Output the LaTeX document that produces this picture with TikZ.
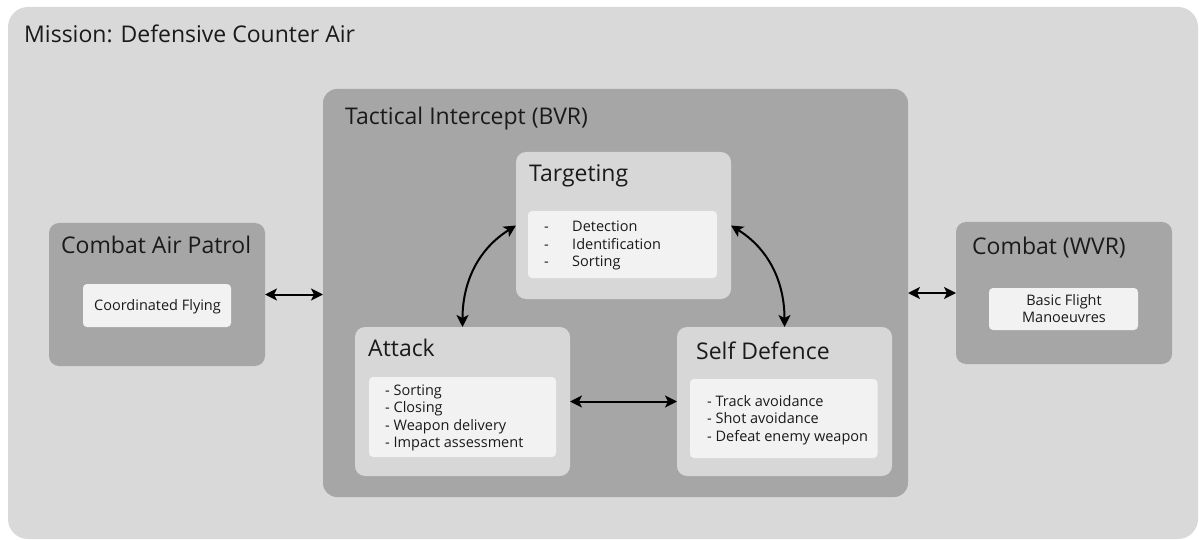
\documentclass[tikz,border=0pt]{standalone}
\usepackage{fontspec}
\setmainfont{Open Sans}
\usetikzlibrary{arrows.meta}
\definecolor{outerbg}{HTML}{D9D9D9}
\definecolor{darkbg}{HTML}{A6A6A6}
\definecolor{midbg}{HTML}{D7D7D7}
\definecolor{whitebg}{HTML}{F2F2F2}
\definecolor{ink}{HTML}{1A1A1A}
\begin{document}
\begin{tikzpicture}[x=1pt,y=-1pt,
  boxbase/.style={inner sep=0pt, outer sep=0pt, draw=none},
  outerbox/.style={boxbase, fill=outerbg, rounded corners=20pt},
  darkbox/.style={boxbase, fill=darkbg, rounded corners=14pt},
  sidebox/.style={boxbase, fill=darkbg, rounded corners=10pt},
  midbox/.style={boxbase, fill=midbg, rounded corners=10pt},
  whitebox/.style={boxbase, fill=whitebg, rounded corners=4pt},
  title/.style={inner sep=0pt, anchor=base west, text=ink, font=\fontsize{23}{27}\selectfont},
  small/.style={inner sep=0pt, text=ink, font=\fontsize{14.5}{17.5}\selectfont},
  tipshape/.tip={Stealth[length=12pt,width=12pt,inset=3pt]},
  arr/.style={tipshape-tipshape, line width=2pt, draw=black}
]
\useasboundingbox (0,0) rectangle (1199,540);

% outer mission box
\node[outerbox, minimum width=1190pt, minimum height=532pt] (mission) at (603,273) {};
\node[title] (missiont) at (24,43) {Mission: Defensive Counter Air};

% tactical intercept
\node[darkbox, minimum width=585pt, minimum height=408pt] (ti) at (615.5,293) {};
\node[title] (tit) at (345,124.5) {Tactical Intercept (BVR)};

% targeting
\node[midbox, minimum width=215pt, minimum height=147pt] (targ) at (623.5,225.5) {};
\node[title] (targt) at (529,182) {Targeting};
\node[whitebox, minimum width=189pt, minimum height=67pt] (targw) at (622.5,244.5) {};
\node[small, anchor=base west] (targl) at (544,232)
  {\begin{tabular}[t]{@{}p{28pt}@{}l@{}}-&Detection\\-&Identification\\-&Sorting\end{tabular}};

% attack
\node[midbox, minimum width=215pt, minimum height=149pt] (att) at (462.5,401.5) {};
\node[title] (attt) at (368,356) {Attack};
\node[whitebox, minimum width=187pt, minimum height=80pt] (attw) at (462.5,417) {};
\node[small, anchor=base west] (attl) at (385,395)
  {\begin{tabular}[t]{@{}l@{}}- Sorting\\- Closing\\- Weapon delivery\\- Impact assessment\end{tabular}};

% self defence
\node[midbox, minimum width=215pt, minimum height=149pt] (sd) at (784.5,401.5) {};
\node[title] (sdt) at (696,359) {Self Defence};
\node[whitebox, minimum width=187.5pt, minimum height=79pt] (sdw) at (783.75,418.5) {};
\node[small, anchor=base west] (sdl) at (707,406)
  {\begin{tabular}[t]{@{}l@{}}- Track avoidance\\- Shot avoidance\\- Defeat enemy weapon\end{tabular}};

% combat air patrol
\node[sidebox, minimum width=216pt, minimum height=143pt] (cap) at (157,294.5) {};
\node[title] (capt) at (61,253) {Combat Air Patrol};
\node[whitebox, minimum width=148pt, minimum height=43pt] (capw) at (157,305.5) {};
\node[small, anchor=base] (capl) at (157.5,310) {Coordinated Flying};

% combat WVR
\node[sidebox, minimum width=216pt, minimum height=142pt] (wvr) at (1064,293) {};
\node[title] (wvrt) at (972,254) {Combat (WVR)};
\node[whitebox, minimum width=149pt, minimum height=42pt] (wvrw) at (1063.5,309) {};
\node[small, anchor=base] (wvrl) at (1064,305)
  {\begin{tabular}[t]{@{}c@{}}Basic Flight\\Manoeuvres\end{tabular}};

% connectors
\draw[arr] (cap.east) -- (cap.east -| ti.west);
\draw[arr] (wvr.west -| ti.east) -- (wvr.west);
\draw[arr] (att.east) -- (sd.west);
\draw[arr] (targ.west) to[out=212, in=90] (att.north);
\draw[arr] (targ.east) to[out=-32, in=90] (sd.north);
\end{tikzpicture}
\end{document}
